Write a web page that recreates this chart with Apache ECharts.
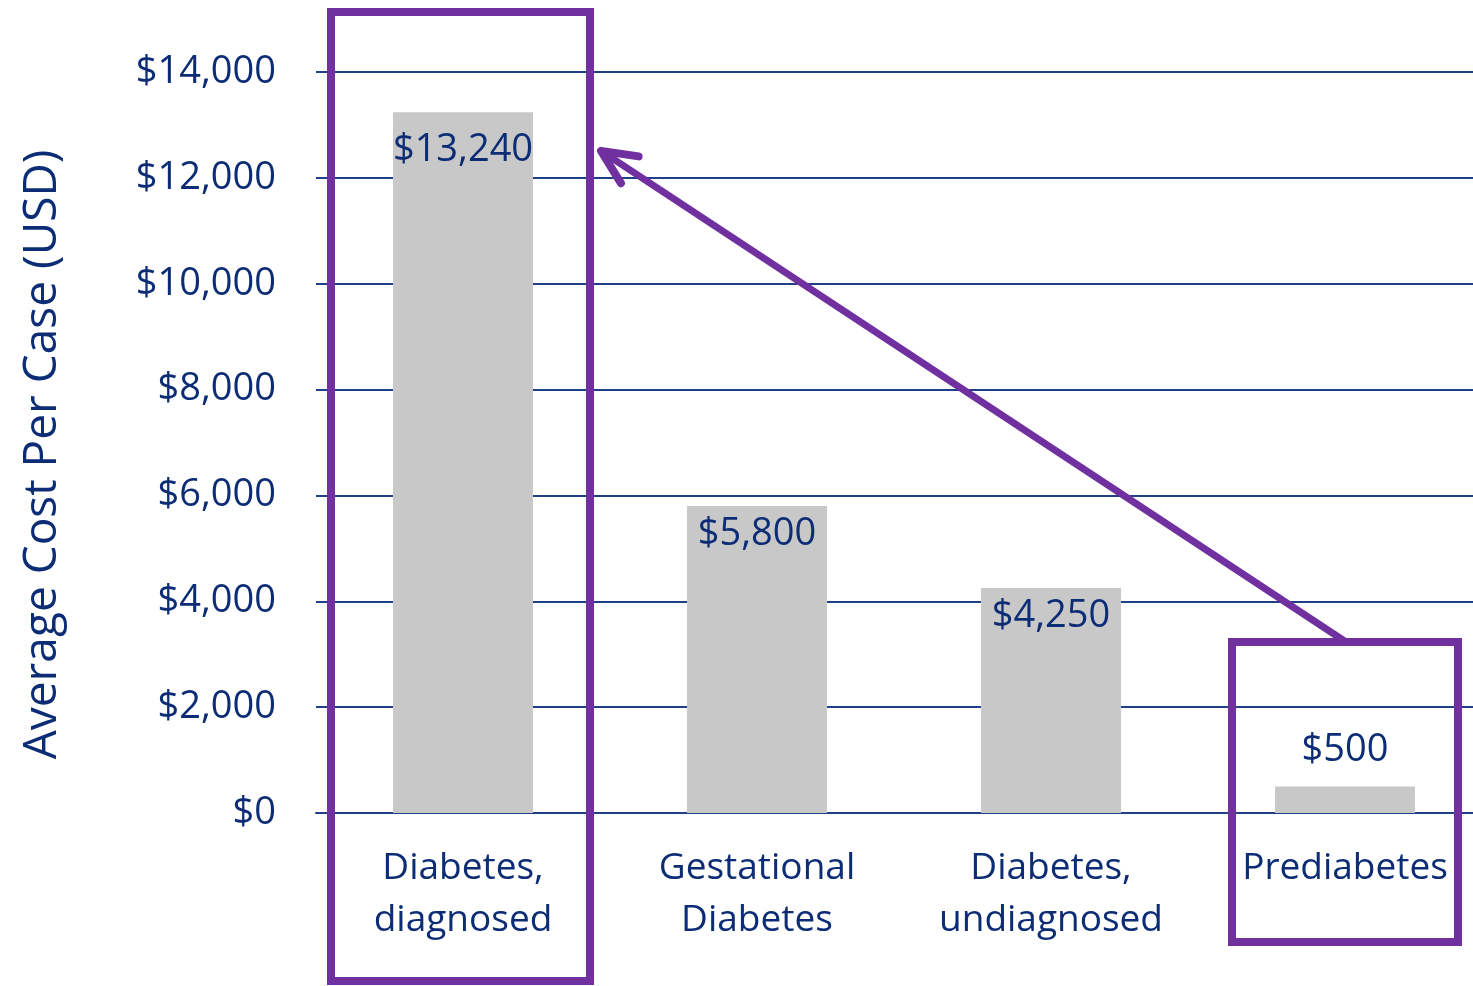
<!DOCTYPE html>
<html>
<head>
<meta charset="utf-8">
<script src="https://cdn.jsdelivr.net/npm/echarts@6/dist/echarts.min.js"></script>
<style>
  html, body { margin: 0; padding: 0; background: #ffffff; }
  #chart { width: 1473px; height: 986px; }
</style>
</head>
<body>
<div id="chart"></div>
<script>
// Average cost per case by diabetes status
const categories = ['Diabetes,\ndiagnosed', 'Gestational\nDiabetes', 'Diabetes,\nundiagnosed', 'Prediabetes'];
const costs = [13240, 5800, 4250, 500];
const yTicks = [0, 2000, 4000, 6000, 8000, 10000, 12000, 14000];

const NAVY = '#0c2d75';
const LINE = '#213f86';
const PURPLE = '#7030a0';
const FONT = 'Open Sans';

const fmt = v => '$' + v.toLocaleString('en-US');

const chart = echarts.init(document.getElementById('chart'), null, { renderer: 'canvas' });

chart.setOption({
  animation: false,
  backgroundColor: '#ffffff',
  grid: { left: 316, right: -19, top: 72, bottom: 173, outerBoundsMode: 'none', containLabel: false },
  xAxis: {
    type: 'category',
    data: categories,
    axisLine: { show: true, lineStyle: { color: LINE, width: 2 } },
    axisTick: { show: false },
    axisLabel: {
      color: NAVY, fontFamily: FONT, fontSize: 37, lineHeight: 52,
      margin: 29, interval: 0
    }
  },
  yAxis: {
    type: 'value',
    min: yTicks[0],
    max: yTicks[yTicks.length - 1],
    interval: 2000,
    name: 'Average Cost Per Case (USD)',
    nameLocation: 'middle',
    nameRotate: 90,
    nameGap: 250,
    nameTextStyle: { color: NAVY, fontFamily: FONT, fontSize: 46, padding: [0, 0, 0, -24] },
    axisLine: { show: false },
    axisTick: { show: false },
    axisLabel: { color: NAVY, fontFamily: FONT, fontSize: 38, margin: 40, formatter: v => fmt(v) },
    splitLine: { show: true, lineStyle: { color: LINE, width: 2 } }
  },
  series: [{
    type: 'bar',
    barWidth: 140,
    itemStyle: { color: '#c8c8c8' },
    data: costs.map((v, i) => ({
      value: v,
      label: i === costs.length - 1
        ? { position: 'top', distance: 17 }
        : { position: 'insideTop', distance: i === 0 ? 19 : 9 }
    })),
    label: {
      show: true,
      color: NAVY, fontFamily: FONT, fontSize: 38,
      formatter: p => fmt(p.value)
    },
    z: 2
  }]
});

// Highlight boxes and arrow, anchored to the axis positions
function drawAnnotations() {
  const cx = i => chart.convertToPixel({ xAxisIndex: 0 }, categories[i]);
  const py = v => chart.convertToPixel({ yAxisIndex: 0 }, v);
  const c0 = cx(0), c3 = cx(categories.length - 1);
  const y0 = py(0), yTop = py(14000), y12 = py(12000);

  const box1 = { x: c0 - 132, y: yTop - 60, width: 259, height: 969 };
  const box2 = { x: c3 - 113, y: y0 - 171, width: 226, height: 300 };

  const start = [c3 + 1, box2.y];
  const tip = [c0 + 138, y12 - 27];
  const ang = Math.atan2(start[1] - tip[1], start[0] - tip[0]);
  const armLen = 38, spread = 25 * Math.PI / 180;
  const arm = s => [tip[0] + armLen * Math.cos(ang + s), tip[1] + armLen * Math.sin(ang + s)];

  const stroke = { stroke: PURPLE, lineWidth: 8, fill: null };
  chart.setOption({
    graphic: [
      { type: 'rect', shape: box1, style: stroke, z: 10 },
      { type: 'rect', shape: box2, style: stroke, z: 10 },
      { type: 'polyline', shape: { points: [start, tip] },
        style: { stroke: PURPLE, lineWidth: 7, fill: null }, z: 10 },
      { type: 'polyline', shape: { points: [arm(spread), tip, arm(-spread)] },
        style: { stroke: PURPLE, lineWidth: 8, fill: null, lineCap: 'round', lineJoin: 'round' }, z: 10 }
    ]
  });
}
drawAnnotations();
</script>
</body>
</html>
